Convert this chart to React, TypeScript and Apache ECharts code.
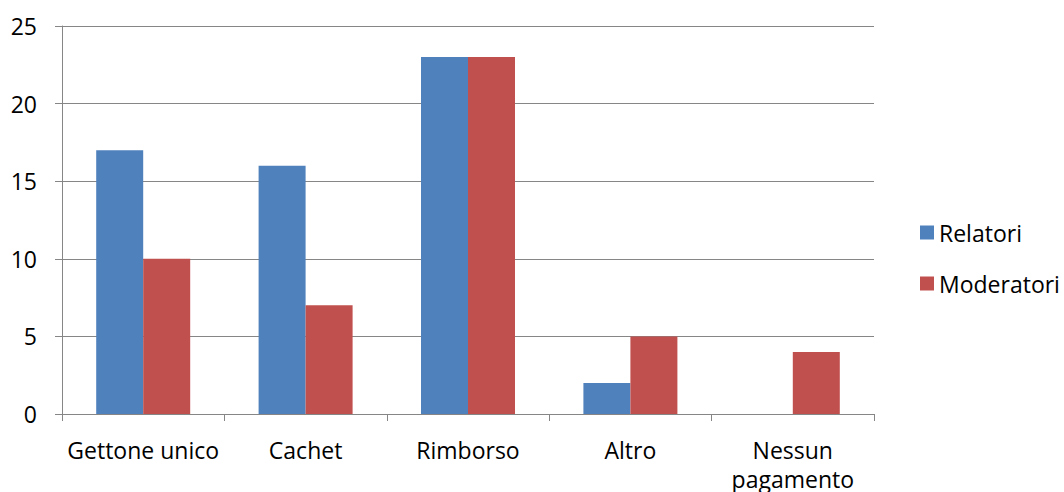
import React, { useEffect, useRef } from "react";
import * as echarts from "echarts";

const categories = ["Gettone unico", "Cachet", "Rimborso", "Altro", "Nessun\npagamento"];
const relatori = [17, 16, 23, 2, 0];
const moderatori = [10, 7, 23, 5, 4];
const yTicks = { min: 0, max: 25, interval: 5 };

const FONT = "'Open Sans', 'Noto Sans', sans-serif";
const GRAY = "#868686";
const FS = 23;

export default function App() {
  const ref = useRef<HTMLDivElement>(null);

  useEffect(() => {
    if (!ref.current) return;
    const chart = echarts.init(ref.current, null, { renderer: "svg" });
    chart.setOption({
      animation: false,
      backgroundColor: "#ffffff",
      textStyle: { fontFamily: FONT },
      grid: {
        left: 62,
        right: 190,
        top: 26,
        bottom: 78,
        containLabel: false,
        outerBoundsMode: "none",
      },
      legend: {
        orient: "vertical",
        left: 915,
        top: 213,
        itemWidth: 14,
        itemHeight: 14,
        itemGap: 22,
        icon: "rect",
        textStyle: { fontFamily: FONT, fontSize: FS, color: "#000", lineHeight: 29 },
        data: ["Relatori", "Moderatori"],
      },
      xAxis: {
        type: "category",
        data: categories,
        axisLine: { lineStyle: { color: GRAY, width: 1 } },
        axisTick: { show: true, length: 7, lineStyle: { color: GRAY } },
        axisLabel: {
          color: "#000",
          fontFamily: FONT,
          fontSize: FS,
          margin: 21,
          lineHeight: 29,
          interval: 0,
        },
      },
      yAxis: {
        type: "value",
        min: yTicks.min,
        max: yTicks.max,
        interval: yTicks.interval,
        axisLine: { show: true, lineStyle: { color: GRAY, width: 1 } },
        axisTick: { show: true, length: 7, lineStyle: { color: GRAY } },
        splitLine: { lineStyle: { color: GRAY, width: 1 } },
        axisLabel: { color: "#000", fontFamily: FONT, fontSize: FS, margin: 25 },
      },
      series: [
        {
          name: "Relatori",
          type: "bar",
          data: relatori,
          barWidth: 47,
          barGap: "0%",
          itemStyle: { color: "#4F81BD" },
        },
        {
          name: "Moderatori",
          type: "bar",
          data: moderatori,
          barWidth: 47,
          barGap: "0%",
          itemStyle: { color: "#C0504D" },
        },
      ],
    });
    return () => chart.dispose();
  }, []);

  return (
    <div
      ref={ref}
      style={{ position: "absolute", left: 0, top: 0, width: 1064, height: 492 }}
    />
  );
}
